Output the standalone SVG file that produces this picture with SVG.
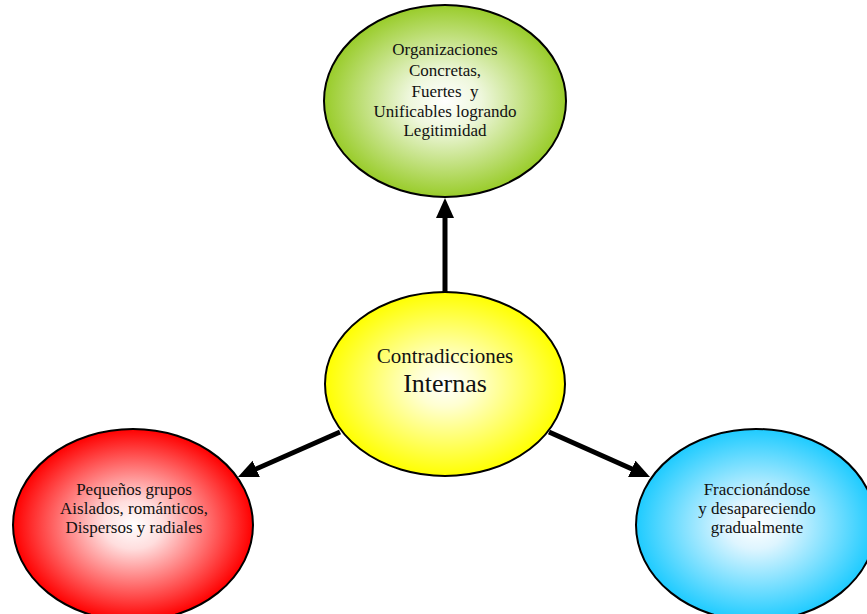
<svg xmlns="http://www.w3.org/2000/svg" width="867" height="614" viewBox="0 0 867 614">
<defs>
<radialGradient id="gGreen" cx="50%" cy="50%" r="50%"><stop offset="0" stop-color="#ffffff"/><stop offset="0.3" stop-color="#eef7dc"/><stop offset="1" stop-color="#99cc2a"/></radialGradient>
<radialGradient id="gYellow" cx="50%" cy="50%" r="50%"><stop offset="0" stop-color="#ffffff"/><stop offset="0.25" stop-color="#ffffd0"/><stop offset="1" stop-color="#ffff00"/></radialGradient>
<radialGradient id="gRed" cx="50%" cy="50%" r="50%"><stop offset="0" stop-color="#ffffff"/><stop offset="0.25" stop-color="#ffdede"/><stop offset="1" stop-color="#ff0000"/></radialGradient>
<radialGradient id="gCyan" cx="50%" cy="50%" r="50%"><stop offset="0" stop-color="#ffffff"/><stop offset="0.25" stop-color="#def5ff"/><stop offset="1" stop-color="#1ecbff"/></radialGradient>
<marker id="arr" markerUnits="userSpaceOnUse" markerWidth="22" markerHeight="20" refX="4" refY="9" orient="auto"><path d="M0,0 L20,9 L0,18 z" fill="#000"/></marker>
<style>
.node ellipse{stroke:#000;stroke-width:2}
.node text{font-family:"Liberation Serif","Times New Roman",serif;fill:#111;text-anchor:middle;font-size:17px}
.conn line{stroke:#000;stroke-width:5;marker-end:url(#arr)}
</style>
</defs>
<rect width="867" height="614" fill="#fff"/>
<g id="top" class="node">
<ellipse cx="445" cy="101" rx="121" ry="96" fill="url(#gGreen)"/>
<text x="445" y="55">Organizaciones</text>
<text x="445" y="76">Concretas,</text>
<text x="445" y="97" xml:space="preserve">Fuertes  y</text>
<text x="445" y="117">Unificables logrando</text>
<text x="445" y="136">Legitimidad</text>
</g>
<g id="center" class="node">
<ellipse cx="445" cy="384" rx="120" ry="92" fill="url(#gYellow)"/>
<text x="445" y="363" style="font-size:21px">Contradicciones</text>
<text x="445" y="392" style="font-size:26px">Internas</text>
</g>
<g id="left" class="node">
<ellipse cx="133" cy="525" rx="120" ry="96" fill="url(#gRed)"/>
<text x="134" y="495">Pequeños grupos</text>
<text x="134" y="514">Aislados, románticos,</text>
<text x="134" y="533">Dispersos y radiales</text>
</g>
<g id="right" class="node">
<ellipse cx="756" cy="525" rx="120" ry="96" fill="url(#gCyan)"/>
<text x="757" y="495">Fraccionándose</text>
<text x="757" y="514">y desapareciendo</text>
<text x="757" y="533">gradualmente</text>
</g>
<g id="connectors" class="conn">
<line x1="445" y1="292" x2="445" y2="214"/>
<line x1="549" y1="432" x2="635.4" y2="470.5"/>
<line x1="340" y1="432" x2="252.6" y2="470.5"/>
</g>
</svg>
